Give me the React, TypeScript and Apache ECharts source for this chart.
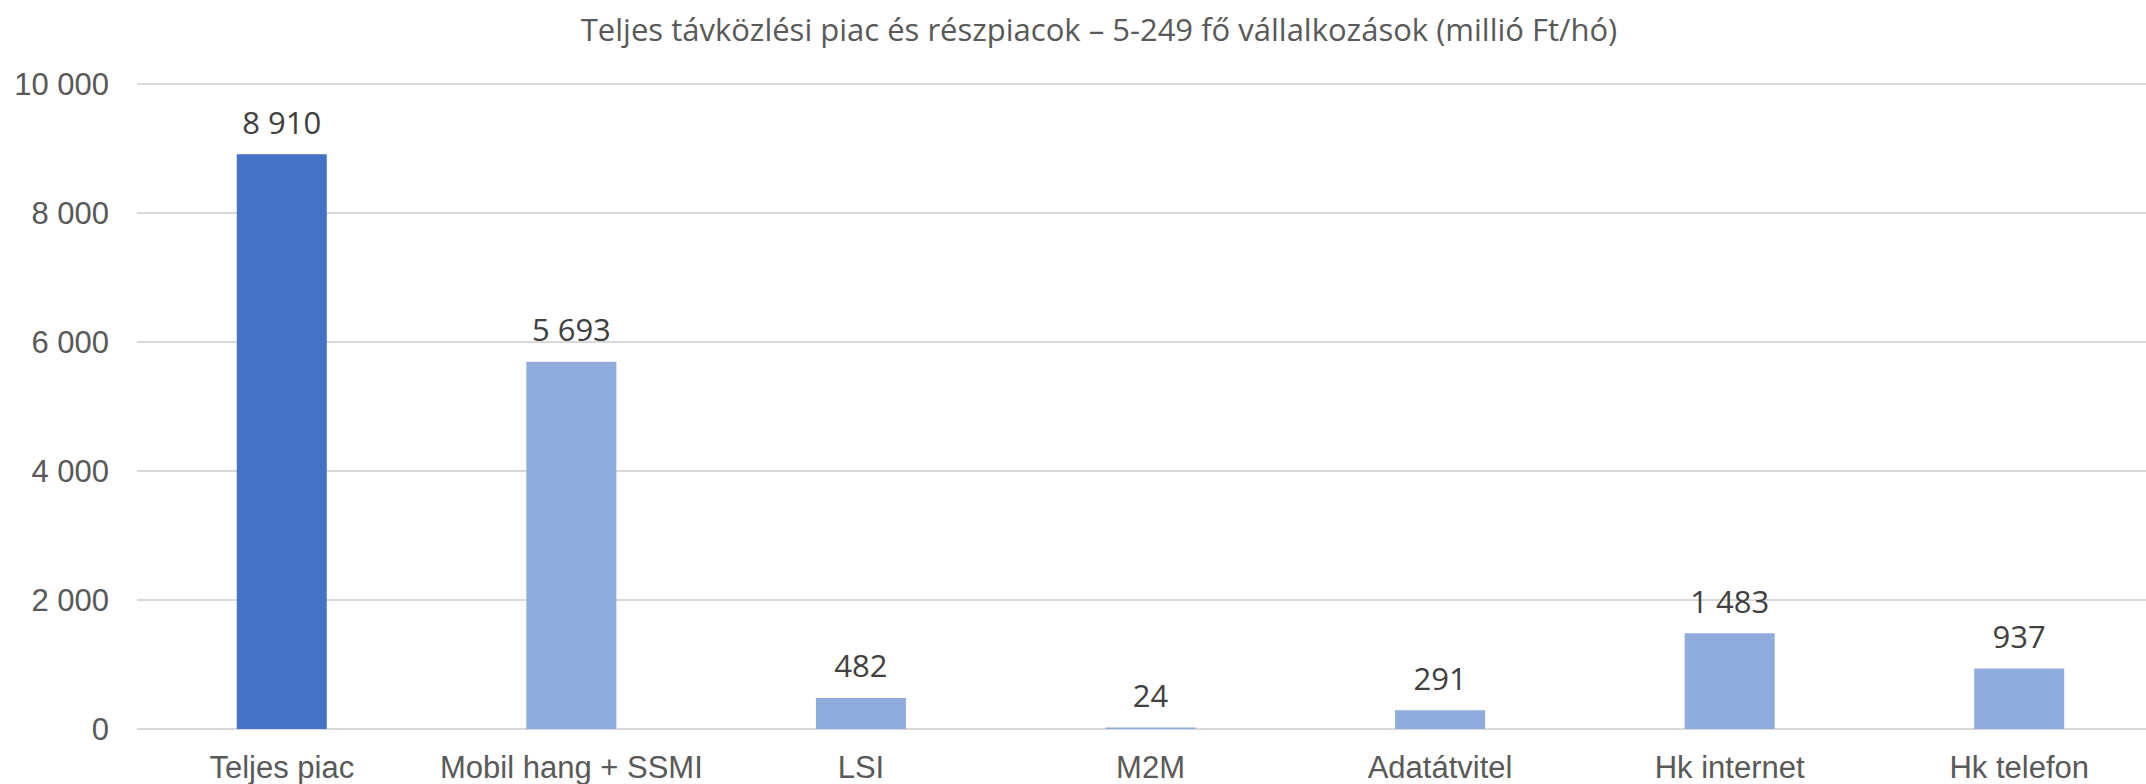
import React, { useEffect, useRef } from "react";
import * as echarts from "echarts";

const titleText = "Teljes távközlési piac és részpiacok – 5-249 fő vállalkozások (millió Ft/hó)";
const categories = ["Teljes piac", "Mobil hang + SSMI", "LSI", "M2M", "Adatátvitel", "Hk internet", "Hk telefon"];
const values = [8910, 5693, 482, 24, 291, 1483, 937];
const yMin = 0;
const yMax = 10000;
const yInterval = 2000;

const fmt = (v: number) => String(Math.round(v)).replace(/\B(?=(\d{3})+(?!\d))/g, " ");

export default function App() {
  const ref = useRef<HTMLDivElement>(null);
  useEffect(() => {
    if (!ref.current) return;
    const chart = echarts.init(ref.current, undefined, { renderer: "svg" });
    chart.setOption({
      animation: false,
      backgroundColor: "#ffffff",
      graphic: [
        {
          type: "text",
          x: 1099,
          y: 29,
          style: {
            text: titleText,
            font: '31px "Open Sans"',
            fill: "#595959",
            textAlign: "center",
            textVerticalAlign: "middle",
          },
        },
      ],
      grid: {
        left: 137,
        top: 84,
        width: 2027,
        height: 645,
        containLabel: false,
        outerBoundsMode: "none",
      },
      xAxis: {
        type: "category",
        data: categories,
        axisLine: { show: false },
        axisTick: { show: false },
        axisLabel: {
          color: "#595959",
          fontFamily: '"Liberation Sans", Arial, sans-serif',
          fontSize: 31,
          margin: 23,
          interval: 0,
        },
      },
      yAxis: {
        type: "value",
        min: yMin,
        max: yMax,
        interval: yInterval,
        axisLine: { show: false },
        axisTick: { show: false },
        splitLine: { lineStyle: { color: "#d9d9d9", width: 2 } },
        axisLabel: {
          color: "#595959",
          fontFamily: '"Liberation Sans", Arial, sans-serif',
          fontSize: 31,
          margin: 28,
          formatter: (v: number) => fmt(v),
        },
      },
      series: [
        {
          type: "bar",
          barWidth: 90,
          data: values.map((v, i) => ({
            value: v,
            itemStyle: { color: i === 0 ? "#4472C4" : "#8FAADC" },
          })),
          label: {
            show: true,
            position: "top",
            distance: 17,
            color: "#404040",
            fontFamily: '"Open Sans", sans-serif',
            fontSize: 31,
            formatter: (p: any) => fmt(p.value),
          },
        },
      ],
    });
    return () => chart.dispose();
  }, []);
  return (
    <div
      ref={ref}
      style={{ position: "absolute", left: 0, top: 0, width: 2146, height: 784 }}
    />
  );
}
